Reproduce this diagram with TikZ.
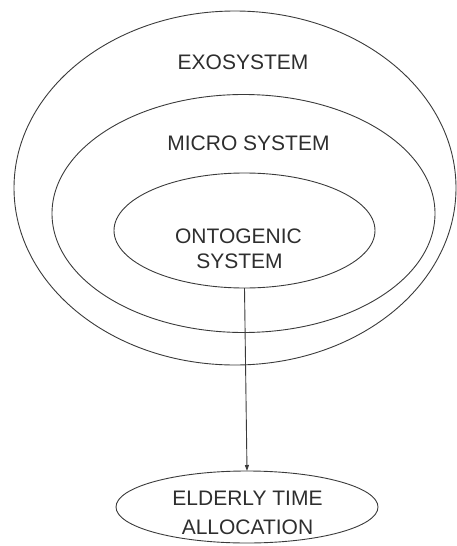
\documentclass[tikz,border=0pt]{standalone}
\usepackage{fontspec}
\setmainfont{Liberation Sans}
\usetikzlibrary{shapes.geometric,arrows.meta}
\definecolor{linegray}{HTML}{3A3A3A}
\definecolor{textgray}{HTML}{2E2E2E}
\begin{document}
\begin{tikzpicture}[x=1pt,y=-1pt,
  ring/.style={draw=linegray, line width=0.9pt, ellipse, inner sep=0pt, outer sep=0pt},
  lbl/.style={anchor=base, inner sep=0pt, text=textgray, font=\fontsize{21}{25}\selectfont},
  conn/.style={draw=linegray, line width=0.9pt, -{Triangle[length=6pt,width=4pt]}}]
\useasboundingbox (0,0) rectangle (457,546);
\node[ring, minimum width=442pt, minimum height=354pt] (exo) at (235,188) {};
\node[ring, minimum width=383pt, minimum height=238pt] (micro) at (243.5,213.5) {};
\node[ring, minimum width=261pt, minimum height=115pt] (onto) at (244.5,230.5) {};
\node[ring, minimum width=262pt, minimum height=72pt] (elder) at (247,507) {};
\node[lbl] (exolbl) at (243,69) {EXOSYSTEM};
\node[lbl] (microlbl) at (248.5,150) {MICRO SYSTEM};
\node[lbl] (ontoA) at (238.5,243) {ONTOGENIC};
\node[lbl] (ontoB) at (239.5,268) {SYSTEM};
\node[lbl] (eldA) at (247.5,505) {ELDERLY TIME};
\node[lbl] (eldB) at (247.5,534) {ALLOCATION};
\draw[conn] (onto.south) -- (elder.north);
\end{tikzpicture}
\end{document}
